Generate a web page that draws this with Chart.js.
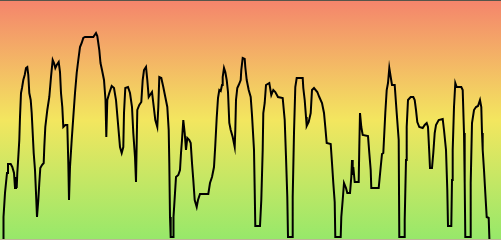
<!DOCTYPE html>
<html>
<head>
<meta charset="utf-8">
<title>Trace</title>
<script src="https://cdn.jsdelivr.net/npm/chart.js@4.4.1/dist/chart.umd.min.js"></script>
<style>
  html, body { margin: 0; padding: 0; background: #fff; }
  #wrap { width: 501px; height: 240px; }
</style>
</head>
<body>
<div id="wrap"><canvas id="trace"></canvas></div>
<script>
// Samples along the track and the reading at each one
var position = [
  3, 3.5, 5, 6, 7, 8, 10.7, 12.3, 14, 15, 16, 16.7, 17.3, 18.3, 19.3, 20, 21, 22, 23.3, 24.7,
  26, 27.3, 28.3, 29.3, 30.7, 31.7, 32.7, 33.7, 35, 36, 37, 38.3, 39.3, 40.3, 42, 43.7, 44.3, 45.3, 47.3, 49.3,
  51, 52.7, 54, 55.3, 56.7, 58.7, 60, 61, 62.3, 63.3, 65.3, 67.3, 68.3, 69, 70, 71.7, 73.3, 75, 76.7, 78.3,
  80, 81.7, 83.3, 85, 93.3, 96, 97.3, 99.3, 100.5, 102, 104, 105.5, 106.3, 107.3, 109.3, 111.7, 114, 116, 118.3, 120,
  121.7, 123.3, 124, 125.3, 128, 130, 132, 133.3, 135, 136, 137.3, 139.3, 141.3, 142.7, 144, 146, 147.3, 148.7, 150, 152,
  153.3, 155.3, 157.3, 158.3, 159.3, 161.3, 163.3, 165.3, 167.3, 168.7, 169.3, 170, 170.7, 173, 173.5, 176, 178.3, 180, 181, 182,
  183.3, 184.7, 186, 187.3, 189.3, 190.7, 192, 193.3, 194.7, 196.7, 198, 200, 208.3, 210, 212, 214, 215.3, 216.7, 218, 219.3,
  220.7, 222, 222.7, 224, 225.3, 226.7, 228, 229.3, 230.7, 232.7, 234.7, 235.3, 236, 237.3, 238.7, 240.7, 241.3, 242.7, 244.7, 245.3,
  246.7, 248.7, 250.7, 252, 254, 254.7, 255.3, 260, 261.3, 262.7, 263.3, 264.7, 266, 269.3, 271.3, 273.3, 275.3, 278, 282.7, 284.7,
  286, 287.3, 288, 292, 292.7, 294, 295.3, 296.7, 302.7, 303.3, 304.7, 306, 306.7, 308.7, 310.7, 312, 314, 317.3, 319.3, 322,
  324, 325.3, 326.7, 330.7, 332, 333.3, 334.7, 335.3, 340.7, 341.3, 342.7, 344, 346, 347.3, 350, 351.3, 352, 352.7, 353.3, 354.7,
  358.7, 359.3, 360, 361.3, 362.7, 368, 369.3, 370.7, 371.3, 378.7, 380.7, 382, 383.3, 385.3, 386.7, 388, 389.3, 390.7, 392, 394.7,
  396.7, 398.7, 399.3, 404.5, 404.7, 406, 406.7, 408, 410.7, 413.3, 414.7, 416, 417.3, 419.3, 422.7, 424.7, 426.7, 428, 429.3, 430,
  432, 433.3, 434.7, 436, 438.7, 442.7, 444, 446, 447.3, 448, 451.3, 452, 452.7, 454, 455.3, 456.7, 458.7, 461.3, 462.7, 464,
  464.7, 465.3, 470, 470.7, 472, 474, 476, 478, 480, 481.3, 482, 482.7, 484, 485.3, 486.7, 488.7, 489.5
];
var level = [
  -2, 23, 47, 57, 67, 76, 76, 73, 67, 52, 63, 52, 67, 83, 100, 123, 147, 152, 160, 165,
  172, 173, 165, 147, 140, 127, 107, 87, 70, 47, 23, 40, 57, 72, 75, 77, 93, 113, 130, 143,
  163, 180, 177, 172, 175, 178, 168, 147, 133, 113, 115, 115, 77, 40, 73, 100, 123, 147, 167, 180,
  193, 197, 202, 203, 203, 207, 204, 190, 177, 170, 160, 140, 103, 140, 147, 154, 152, 140, 113, 93,
  87, 93, 127, 152, 153, 147, 133, 107, 83, 58, 130, 135, 138, 160, 170, 173, 160, 143, 145, 148,
  137, 120, 113, 133, 163, 162, 153, 143, 133, 110, 77, 23, 3, 3, 23, 63, 65, 70, 87, 100,
  120, 107, 90, 102, 100, 97, 77, 60, 40, 33, 40, 46, 46, 57, 63, 73, 95, 122, 142, 150,
  149, 155, 163, 172, 168, 160, 148, 117, 110, 103, 93, 110, 140, 152, 155, 160, 170, 182, 181, 173,
  160, 150, 143, 125, 90, 50, 14, 14, 40, 90, 127, 137, 155, 157, 145, 150, 148, 143, 142, 120,
  83, 43, 3, 3, 43, 107, 153, 162, 162, 152, 140, 123, 114, 118, 127, 150, 152, 148, 143, 137,
  127, 113, 97, 96, 77, 57, 38, 3, 3, 23, 40, 57, 52, 47, 47, 63, 80, 65, 73, 58,
  58, 93, 127, 113, 105, 104, 87, 70, 52, 52, 73, 86, 87, 127, 150, 157, 172, 163, 155, 155,
  127, 100, 3, 3, 20, 80, 113, 140, 143, 143, 140, 130, 118, 113, 112, 115, 117, 113, 87, 72,
  72, 87, 107, 115, 120, 121, 110, 90, 50, 14, 14, 60, 90, 133, 157, 153, 153, 153, 150, 107,
  57, 3, 3, 57, 117, 130, 133, 134, 140, 133, 107, 90, 70, 47, 23, 22, -2
];

var points = position.map(function (p, i) { return { x: p, y: level[i] }; });

// warm-to-green backdrop behind the plot, plus the thin frame lines
var backdrop = {
  id: 'backdrop',
  beforeDraw: function (chart) {
    var ctx = chart.ctx, a = chart.chartArea;
    var g = ctx.createLinearGradient(0, a.top, 0, a.bottom);
    g.addColorStop(0, '#f4846c');
    g.addColorStop(0.5, '#f3e65f');
    g.addColorStop(1, '#96e86a');
    ctx.save();
    ctx.fillStyle = g;
    ctx.fillRect(a.left, a.top, a.right - a.left, a.bottom - a.top);
    ctx.restore();
  },
  afterDraw: function (chart) {
    var ctx = chart.ctx, a = chart.chartArea;
    ctx.save();
    ctx.fillStyle = '#55554a';
    ctx.fillRect(a.left, a.top, a.right - a.left, 1);
    ctx.fillStyle = '#bdb597';
    ctx.fillRect(a.left, a.bottom - 1, a.right - a.left, 1);
    ctx.restore();
  }
};

var ctx = document.getElementById('trace').getContext('2d');
var traceChart = new Chart(ctx, {
  type: 'line',
  data: {
    datasets: [{
      data: points,
      borderColor: '#000000',
      borderWidth: 2,
      pointRadius: 0,
      tension: 0,
      fill: false
    }]
  },
  options: {
    responsive: true,
    maintainAspectRatio: false,
    animation: false,
    layout: { padding: 0 },
    scales: {
      x: { type: 'linear', min: 0, max: 501, display: false },
      y: { min: 0, max: 240, display: false }
    },
    plugins: {
      legend: { display: false },
      tooltip: { enabled: false }
    }
  },
  plugins: [backdrop]
});
</script>
</body>
</html>
